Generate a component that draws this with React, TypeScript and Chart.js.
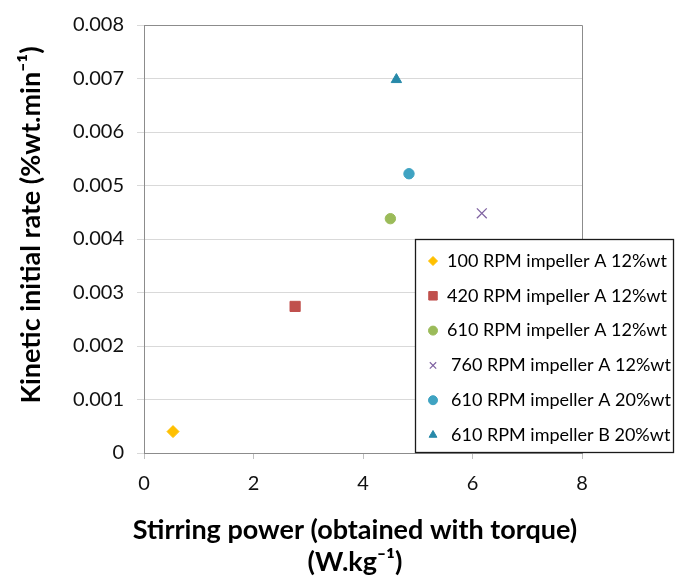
import React, { useEffect, useRef } from 'react';
import { Chart, registerables } from 'chart.js';
import { drawPoint } from 'chart.js/helpers';

Chart.register(...registerables);

const seriesLabels = [
  '100 RPM impeller A 12%wt',
  '420 RPM impeller A 12%wt',
  '610 RPM impeller A 12%wt',
  '760 RPM impeller A 12%wt',
  '610 RPM impeller A 20%wt',
  '610 RPM impeller B 20%wt',
];
const stirringPower = [0.53, 2.76, 4.5, 6.17, 4.84, 4.61];
const kineticRate = [0.0004, 0.00274, 0.00438, 0.00448, 0.00522, 0.00698];
const seriesColors = ['#FFC000', '#C0504D', '#9BBB59', '#8064A2', '#3FA3C2', '#2789A9'];
const seriesStyles = ['rectRot', 'rect', 'circle', 'crossRot', 'circle', 'triangle'];
const seriesRadius = [6, 7.2, 5.2, 7, 5.2, 6];

const xTitle = ['Stirring power (obtained with torque)', '(W.kg\u207B\u00B9)'];
const yTitle = 'Kinetic initial rate (%wt.min\u207B\u00B9)';

const FONT = "Lato, 'Open Sans', sans-serif";

const titles = {
  id: 'titles',
  afterDraw(chart: any) {
    const ctx = chart.ctx;
    ctx.save();
    ctx.fillStyle = '#000000';
    ctx.font = `bold 27px ${FONT}`;
    ctx.textAlign = 'center';
    ctx.textBaseline = 'middle';
    ctx.fillText(xTitle[0], 355, 530);
    ctx.fillText(xTitle[1], 355, 562);
    ctx.translate(31, 225);
    ctx.rotate(-Math.PI / 2);
    ctx.fillText(yTitle, 0, 0);
    ctx.restore();
  },
};

const legendBox = {
  id: 'legendBox',
  afterDraw(chart: any) {
    const ctx = chart.ctx;
    const x0 = 415, y0 = 239, x1 = 674, y1 = 453;
    ctx.save();
    ctx.fillStyle = '#ffffff';
    ctx.fillRect(x0, y0, x1 - x0, y1 - y0);
    ctx.strokeStyle = '#1a1a1a';
    ctx.lineWidth = 1.3;
    ctx.strokeRect(x0 + 0.5, y0 + 0.5, x1 - x0 - 1, y1 - y0 - 1);
    ctx.font = `18px ${FONT}`;
    ctx.textBaseline = 'middle';
    ctx.textAlign = 'left';
    chart.data.datasets.forEach((ds: any, i: number) => {
      const cy = 261 + i * 34.8;
      ctx.fillStyle = ds.pointBackgroundColor;
      ctx.strokeStyle = ds.pointBorderColor;
      ctx.lineWidth = ds.pointStyle === 'crossRot' ? 1.2 : 1;
      drawPoint(ctx, { pointStyle: ds.pointStyle, radius: ds.pointStyle === 'rect' ? 6 : 4.5, rotation: 0, borderWidth: 1 }, 433, cy);
      ctx.fillStyle = '#000000';
      ctx.fillText(ds.label, i >= 3 ? 451 : 447, cy);
    });
    ctx.restore();
  },
};

const frame = {
  id: 'frame',
  beforeDatasetsDraw(chart: any) {
    const { ctx, chartArea } = chart;
    ctx.save();
    ctx.strokeStyle = '#8c8c8c';
    ctx.lineWidth = 1;
    ctx.beginPath();
    ctx.moveTo(chartArea.left, chartArea.top + 0.5);
    ctx.lineTo(chartArea.right + 0.5, chartArea.top + 0.5);
    ctx.lineTo(chartArea.right + 0.5, chartArea.bottom);
    ctx.stroke();
    ctx.restore();
  },
};

export default function App() {
  const ref = useRef<HTMLCanvasElement>(null);
  useEffect(() => {
    document.body.style.margin = '0';
    const chart = new Chart(ref.current as HTMLCanvasElement, {
      type: 'scatter',
      data: {
        datasets: seriesLabels.map((label, i) => ({
          label,
          data: [{ x: stirringPower[i], y: kineticRate[i] }],
          pointStyle: seriesStyles[i] as any,
          pointRadius: seriesRadius[i],
          pointBackgroundColor: seriesColors[i],
          pointBorderColor: seriesColors[i],
          pointBorderWidth: seriesStyles[i] === 'crossRot' ? 1.3 : 1,
          showLine: false,
        })),
      },
      options: {
        animation: false,
        responsive: false,
        layout: { padding: { left: 0, right: 93, top: 24, bottom: 0 } },
        plugins: { legend: { display: false }, tooltip: { enabled: false } },
        scales: {
          x: {
            type: 'linear',
            min: 0,
            max: 8,
            afterFit: (s: any) => { s.height = 123; },
            ticks: { stepSize: 2, font: { family: FONT, size: 20 }, color: '#111', padding: 13, maxRotation: 0 },
            grid: { drawOnChartArea: false, drawTicks: true, tickLength: 6, color: '#bfbfbf' },
            border: { display: true, color: '#8c8c8c' },
            title: { display: false },
          },
          y: {
            type: 'linear',
            min: 0,
            max: 0.008,
            afterFit: (s: any) => { s.width = 144; },
            ticks: {
              stepSize: 0.001,
              font: { family: FONT, size: 20 },
              color: '#111',
              padding: 13,
              callback: (v: any) => (v === 0 ? '0' : Number(v).toFixed(3)),
            },
            grid: { color: '#d9d9d9', tickLength: 7 },
            border: { display: true, color: '#8c8c8c' },
            title: { display: false },
          },
        },
      },
      plugins: [frame, legendBox, titles],
    });
    return () => chart.destroy();
  }, []);
  return (
    <div style={{ position: 'absolute', left: 0, top: 0, width: 675, height: 576, background: '#fff' }}>
      <canvas ref={ref} width={675} height={576} />
    </div>
  );
}
